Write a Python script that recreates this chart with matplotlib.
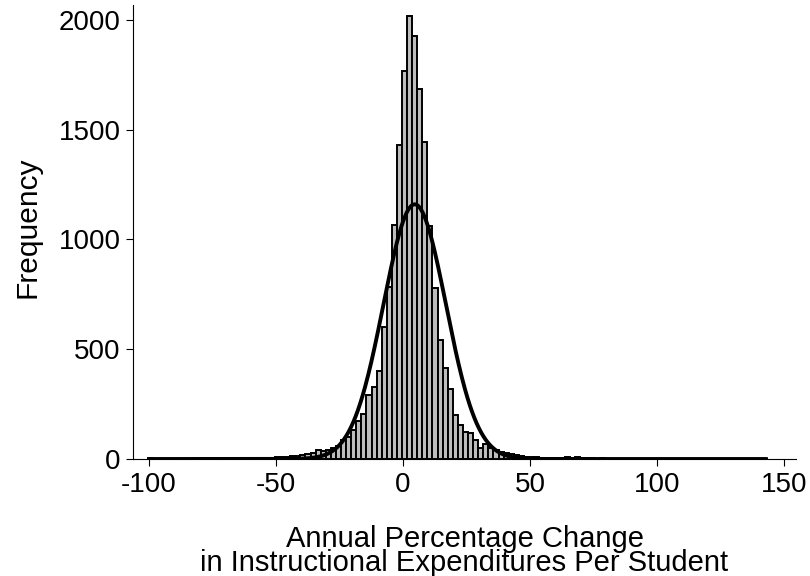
import numpy as np
import matplotlib
matplotlib.use("Agg")
import matplotlib.pyplot as plt

# ---- data ----
bin_start = -100.4
bin_width = 2.0
counts = [
    # left tail (-99.4 .. -51.4)
    3, 1, 0, 1, 1, 0, 1, 1, 0, 1, 1, 1, 2, 1, 1, 2, 2, 2, 3, 2, 3, 4, 4, 5, 6,
    # -49.4 .. -1.4
    10, 8, 10, 14, 14, 18, 25, 29, 40, 38, 41, 49, 59, 88, 101, 133, 172, 206,
    290, 329, 400, 603, 782, 1066, 1430,
    # 0.6 .. 56.6
    1768, 2020, 1927, 1684, 1446, 1060, 778, 542, 415, 320, 200, 157, 121, 117,
    85, 50, 68, 49, 41, 33, 29, 25, 18, 14, 10, 9, 7, 6, 5,
    # right tail (58.6 .. 142.6)
    5, 4, 6, 7, 4, 7, 4, 3, 6, 2, 3, 2, 2, 1, 2, 1, 1, 1, 0, 1, 1, 0, 1, 0, 1,
    1, 0, 0, 1, 0, 1, 0, 0, 1, 0, 0, 1, 0, 0, 1, 0, 0, 1,
]
normal_mean = 4.6
normal_sd = 12.3
normal_peak = 1160
curve_range = (-100.0, 143.6)

x_ticks = [-100, -50, 0, 50, 100, 150]
y_ticks = [0, 500, 1000, 1500, 2000]
x_title = "Annual Percentage Change\nin Instructional Expenditures Per Student"
y_title = "Frequency"

# ---- plotting ----
plt.rcParams['font.family'] = ['Liberation Sans', 'DejaVu Sans']
plt.rcParams['axes.unicode_minus'] = False
fig = plt.figure(figsize=(8.1, 5.76), dpi=100)
ax = fig.add_axes([133 / 810, 117 / 576, (796 - 133) / 810, (571 - 117) / 576])

centers = bin_start + bin_width * (np.arange(len(counts)) + 0.5)
ax.bar(centers, counts, width=bin_width, color='#bdbdbd', edgecolor='black',
       linewidth=1.4, zorder=2, clip_on=False)

xs = np.linspace(curve_range[0], curve_range[1], 800)
ys = normal_peak * np.exp(-0.5 * ((xs - normal_mean) / normal_sd) ** 2)
ax.plot(xs, ys, color='black', linewidth=2.8, zorder=3, solid_capstyle='butt')

ax.set_xlim(-106.3, 154.7)
ax.set_ylim(0, 2068)
ax.set_xticks(x_ticks)
ax.set_yticks(y_ticks)
ax.tick_params(axis='both', direction='out', length=5, width=0.8,
               labelsize=20, pad=4, colors='black')
for s in ['top', 'right']:
    ax.spines[s].set_visible(False)
for s in ['left', 'bottom']:
    ax.spines[s].set_linewidth(0.8)

ax.set_ylabel(y_title, fontsize=21.5)
ax.yaxis.set_label_coords(-0.138, 0.51)
ax.set_xlabel(x_title, fontsize=21, linespacing=0.82)
ax.xaxis.set_label_coords(0.5, -0.146)

fig.savefig("out.png", dpi=100)
